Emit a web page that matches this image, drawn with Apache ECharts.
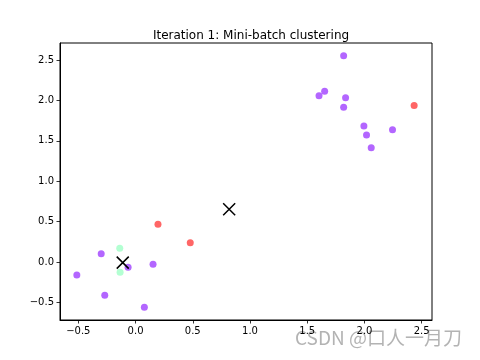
<!DOCTYPE html>
<html><head><meta charset="utf-8">
<script src="https://cdn.jsdelivr.net/npm/echarts@6/dist/echarts.min.js"></script>
<style>html,body{margin:0;padding:0;background:#fff}#c{width:480px;height:360px}</style>
</head><body><div id="c"></div>
<script>
const titleText = 'Iteration 1: Mini-batch clustering';
const xTicks = [-0.5, 0.0, 0.5, 1.0, 1.5, 2.0, 2.5];
const yTicks = [-0.5, 0.0, 0.5, 1.0, 1.5, 2.0, 2.5];
const purplePoints = [
  [1.818, 2.553], [1.652, 2.113], [1.603, 2.058], [1.835, 2.033], [1.818, 1.915],
  [1.995, 1.683], [2.018, 1.572], [2.245, 1.637], [2.059, 1.415],
  [-0.513, -0.161], [-0.300, 0.103], [-0.269, -0.413], [-0.065, -0.066],
  [0.153, -0.029], [0.077, -0.561]
];
const redPoints = [[2.434, 1.935], [0.196, 0.466], [0.478, 0.239]];
const greenPoints = [[-0.138, 0.170], [-0.135, -0.128]];
const centers = [[-0.112, -0.008], [0.818, 0.652]];

const fmt = v => (v < 0 ? '\u2212' : '') + Math.abs(v).toFixed(1);
const font = 'DejaVu Sans';
const chart = echarts.init(document.getElementById('c'), null, {renderer: 'canvas'});
const axisCommon = {
  axisLine: {show: true, onZero: false, lineStyle: {color: '#000', width: 1}},
  axisTick: {show: true, length: 3.5, lineStyle: {color: '#000', width: 0.8}},
  axisLabel: {color: '#000', fontSize: 10, fontFamily: font, formatter: fmt},
  splitLine: {show: false}
};
chart.setOption({
  animation: false,
  title: {text: titleText, left: 246, top: 25, textAlign: 'center',
    textStyle: {fontSize: 12, fontWeight: 'normal', color: '#000', fontFamily: font}},
  grid: {left: 60, right: 48, top: 43, bottom: 40, show: true, borderColor: '#000', borderWidth: 1},
  xAxis: Object.assign({}, axisCommon, {type: 'value', min: -0.66, max: 2.59,
    axisTick: Object.assign({}, axisCommon.axisTick, {customValues: xTicks}),
    axisLabel: Object.assign({}, axisCommon.axisLabel, {customValues: xTicks, margin: 6})}),
  yAxis: Object.assign({}, axisCommon, {type: 'value', min: -0.718, max: 2.71,
    axisTick: Object.assign({}, axisCommon.axisTick, {customValues: yTicks}),
    axisLabel: Object.assign({}, axisCommon.axisLabel, {customValues: yTicks, margin: 6})}),
  series: [
    {type: 'scatter', data: purplePoints, symbolSize: 7, itemStyle: {color: '#8000ff', opacity: 0.6}},
    {type: 'scatter', data: redPoints, symbolSize: 7, itemStyle: {color: '#ff0000', opacity: 0.6}},
    {type: 'scatter', data: greenPoints, symbolSize: 7, itemStyle: {color: '#80ffb4', opacity: 0.6}},
    {type: 'scatter', data: centers, symbol: 'path://M0,0L10,10M10,0L0,10', symbolSize: 12,
      itemStyle: {color: 'none', borderColor: '#000', borderWidth: 1.5, opacity: 1}}
  ],
  graphic: [{type: 'text', left: 295, top: 328, style: {text: 'CSDN @口人一月刀',
    font: '19px "Noto Sans CJK SC"', fill: 'rgba(128,128,128,0.6)'}}]
});
</script></body></html>
